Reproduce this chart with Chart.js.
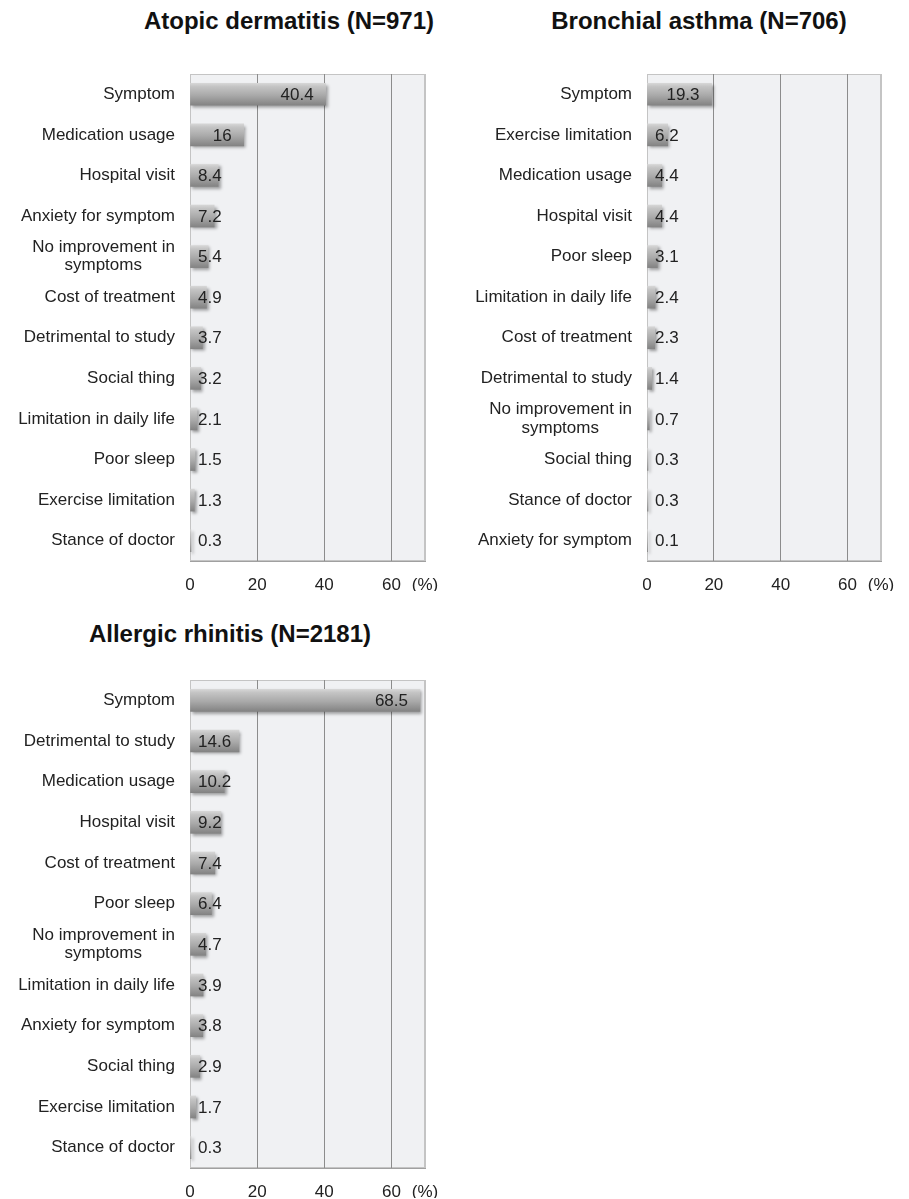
<!DOCTYPE html>
<html><head><meta charset="utf-8">
<script src="https://cdn.jsdelivr.net/npm/chart.js@4/dist/chart.umd.min.js"></script>
<style>
html,body{margin:0;padding:0;background:#fff;width:909px;height:1199px;overflow:hidden;position:relative;font-family:"Liberation Sans",Arial,sans-serif;}
.ttl{position:absolute;font-weight:bold;font-size:24px;color:#111;white-space:nowrap;transform:translate(-50%,-50%);}
canvas{position:absolute;}
</style></head><body>
<div class="ttl" style="left:289px;top:21px">Atopic dermatitis (N=971)</div>
<div class="ttl" style="left:699px;top:21px">Bronchial asthma (N=706)</div>
<div class="ttl" style="left:230px;top:634px">Allergic rhinitis (N=2181)</div>
<canvas id="c1" style="left:0;top:40px"></canvas>
<canvas id="c2" style="left:457px;top:40px"></canvas>
<canvas id="c3" style="left:0;top:640px"></canvas>
<script>
const atopicCategories = ['Symptom','Medication usage','Hospital visit','Anxiety for symptom','No improvement in|symptoms','Cost of treatment','Detrimental to study','Social thing','Limitation in daily life','Poor sleep','Exercise limitation','Stance of doctor'];
const atopicValues = [40.4,16,8.4,7.2,5.4,4.9,3.7,3.2,2.1,1.5,1.3,0.3];

const asthmaCategories = ['Symptom','Exercise limitation','Medication usage','Hospital visit','Poor sleep','Limitation in daily life','Cost of treatment','Detrimental to study','No improvement in|symptoms','Social thing','Stance of doctor','Anxiety for symptom'];
const asthmaValues = [19.3,6.2,4.4,4.4,3.1,2.4,2.3,1.4,0.7,0.3,0.3,0.1];

const rhinitisCategories = ['Symptom','Detrimental to study','Medication usage','Hospital visit','Cost of treatment','Poor sleep','No improvement in|symptoms','Limitation in daily life','Anxiety for symptom','Social thing','Exercise limitation','Stance of doctor'];
const rhinitisValues = [68.5,14.6,10.2,9.2,7.4,6.4,4.7,3.9,3.8,2.9,1.7,0.3];

const xTicks = [0,20,40,60];
const xMax = 70;
const FONT = '"Liberation Sans", Arial, sans-serif';

const bgPlugin = {
  id:'bg',
  beforeDraw(chart){
    const {ctx, chartArea:a} = chart;
    ctx.save();
    ctx.fillStyle = '#f0f1f3';
    ctx.fillRect(a.left, a.top, a.right-a.left, a.bottom-a.top);
    ctx.strokeStyle = '#c4c4c4';
    ctx.lineWidth = 1;
    ctx.strokeRect(a.left+0.5, a.top+0.5, a.right-a.left-1, a.bottom-a.top-1);
    ctx.restore();
  },
  beforeDatasetsDraw(chart){
    const ctx = chart.ctx;
    ctx.save();
    ctx.shadowColor = 'rgba(0,0,0,0.35)';
    ctx.shadowOffsetX = 2;
    ctx.shadowOffsetY = 2;
    ctx.shadowBlur = 3;
  },
  afterDatasetsDraw(chart){
    const ctx = chart.ctx;
    ctx.restore();
    const meta = chart.getDatasetMeta(0);
    const xs = chart.scales.x;
    const x0 = xs.getPixelForValue(0);
    const vals = chart.data.datasets[0].data;
    ctx.save();
    ctx.font = '17px ' + FONT;
    ctx.fillStyle = '#222';
    ctx.textAlign = 'right';
    ctx.textBaseline = 'middle';
    meta.data.forEach((el,i)=>{
      const t = String(vals[i]);
      const w = ctx.measureText(t).width;
      const right = Math.max(el.x - 12, x0 + 8 + w);
      ctx.fillText(t, right, el.y + 1);
    });
    ctx.restore();
  }
};

function makeChart(id, cats, vals, w, h, padTop, padRight){
  const cv = document.getElementById(id);
  cv.width = w; cv.height = h;
  cv.style.width = w+'px'; cv.style.height = h+'px';
  return new Chart(cv, {
    type:'bar',
    data:{ labels: cats, datasets:[{ data: vals, barThickness: 22,
      backgroundColor(c){
        const ch = c.chart; const ys = ch.scales && ch.scales.y;
        if(!ys || c.dataIndex === undefined) return '#aaa';
        const y = ys.getPixelForValue(c.dataIndex);
        if(!Number.isFinite(y)) return '#aaa';
        const g = ch.ctx.createLinearGradient(0, y-11, 0, y+11);
        g.addColorStop(0, '#d6d6d6');
        g.addColorStop(0.15, '#c4c4c4');
        g.addColorStop(0.55, '#a9a9a9');
        g.addColorStop(1, '#838383');
        return g;
      },
      borderWidth:0 }]},
    options:{
      indexAxis:'y', responsive:false, animation:false,
      layout:{ padding:{ top:padTop, right:padRight, left:0, bottom:0 } },
      plugins:{ legend:{display:false}, tooltip:{enabled:false}, title:{display:false} },
      scales:{
        x:{ type:'linear', min:0, max:xMax,
          afterBuildTicks(s){ s.ticks = xTicks.concat([xMax]).map(v=>({value:v})); },
          afterFit(s){ s.height = 30; },
          ticks:{ padding:14, color:'#222', font:{family:FONT, size:17},
            callback:(v)=> v===xMax ? '(%)' : String(v) },
          grid:{ drawTicks:false, lineWidth:1,
            color:(c)=> (c.tick && (c.tick.value===0 || c.tick.value===xMax)) ? '#c4c4c4' : '#8c8c8c' },
          border:{ display:true, color:'#a0a0a0' }
        },
        y:{ type:'category',
          afterFit(s){ s.width = 190; },
          ticks:{ padding:15, color:'#222', font:{family:FONT, size:17, lineHeight:1.08},
            callback(v){ const l = this.getLabelForValue(v); const p = l.split('|');
              return p.length>1 ? [p[0], p[1] + '\u00a0'.repeat(7)] : l; } },
          grid:{ display:false, drawTicks:false },
          border:{ display:false }
        }
      }
    },
    plugins:[bgPlugin]
  });
}

makeChart('c1', atopicCategories, atopicValues, 470, 34+487+30, 34, 45);
makeChart('c2', asthmaCategories, asthmaValues, 452, 34+487+30, 34, 28);
makeChart('c3', rhinitisCategories, rhinitisValues, 470, 40+488+30, 40, 45);
</script>
</body></html>
